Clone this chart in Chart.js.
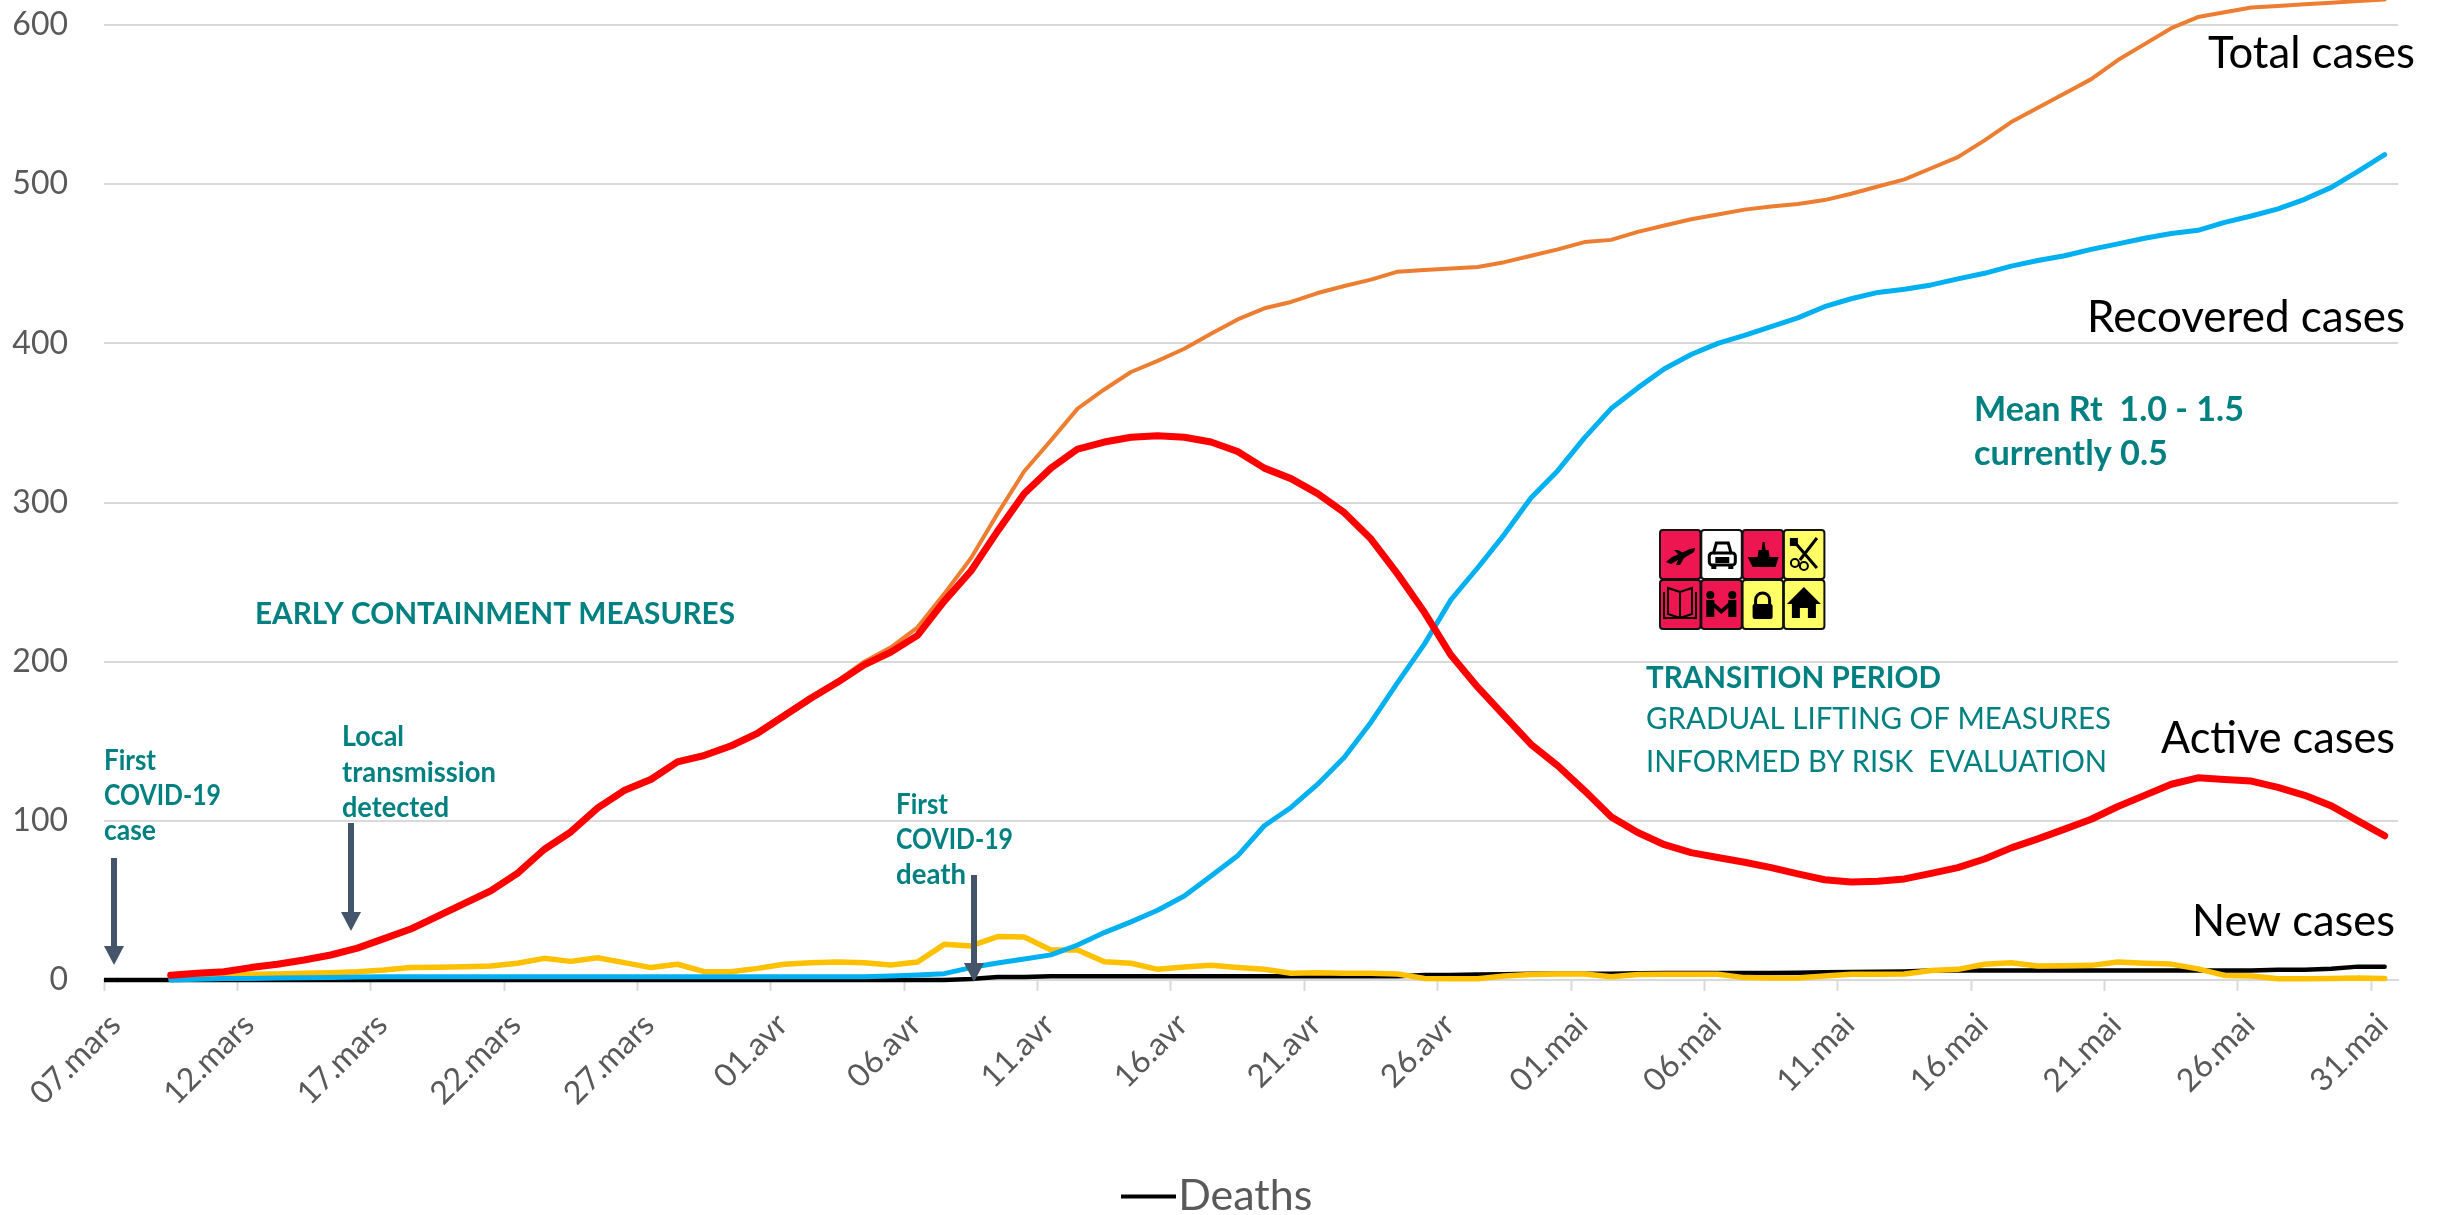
<!DOCTYPE html>
<html>
<head>
<meta charset="utf-8">
<title>COVID-19 cases</title>
<style>
  html, body { margin: 0; padding: 0; background: #fff; }
  canvas { display: block; }
</style>
<script src="https://cdn.jsdelivr.net/npm/chart.js@4"></script>
</head>
<body>
<canvas id="chart" width="2443" height="1215"></canvas>
<script>
/* Daily values, 07.mars to 31.mai (86 days) */
const days = [
  "07.mars","08.mars","09.mars","10.mars","11.mars","12.mars","13.mars","14.mars","15.mars","16.mars",
  "17.mars","18.mars","19.mars","20.mars","21.mars","22.mars","23.mars","24.mars","25.mars","26.mars",
  "27.mars","28.mars","29.mars","30.mars","31.mars","01.avr","02.avr","03.avr","04.avr","05.avr",
  "06.avr","07.avr","08.avr","09.avr","10.avr","11.avr","12.avr","13.avr","14.avr","15.avr",
  "16.avr","17.avr","18.avr","19.avr","20.avr","21.avr","22.avr","23.avr","24.avr","25.avr",
  "26.avr","27.avr","28.avr","29.avr","30.avr","01.mai","02.mai","03.mai","04.mai","05.mai",
  "06.mai","07.mai","08.mai","09.mai","10.mai","11.mai","12.mai","13.mai","14.mai","15.mai",
  "16.mai","17.mai","18.mai","19.mai","20.mai","21.mai","22.mai","23.mai","24.mai","25.mai",
  "26.mai","27.mai","28.mai","29.mai","30.mai","31.mai"
];
const active = [
  null,null,3,4.2,5.2,7.8,9.9,12.6,15.7,20,
  26,32,40,48,56,67,82,93,108,119,
  126,137,141,147,155,166,177,187,198,206,
  216.5,238,257,282,305.6,321.6,333.6,338,341,342,
  341,338,332,321.6,315,305.6,293.6,277,255,231,
  204,184,166,148,134.6,119,102.5,92.7,85,80,
  77,74,70.6,66.7,63,61.6,62,63.5,67,70.6,
  76,83,88.7,94.8,101,109,116,123,127,126,
  125,121,116,109.4,100,90.6
];
const total = [
  null,null,3,4.3,5.4,8,10,13,16,20,
  26,33,41,49,57,68,83,94,109,120,
  127,138,142,148,156,167,178,188,200,209,
  221.6,242.6,265,293,319.6,339,359,371,382,389,
  396.6,406,415,422,426,431.6,436,440,445,446,
  447,448,451,455,459,463.6,465,470,474,478,
  481,484,486,487.6,490,494,498.5,503,510,517,
  527.5,539,548,557,566,578,588,598,605,608,
  611,612,613,614,615,616
];
const recovered = [
  null,null,0,0.5,1,1,1.2,1.4,1.6,1.9,
  2,2,2,2,2,2,2,2,2,2,
  2,2,2,2,2,2,2,2,2,2.5,
  3.1,4,7.8,10.7,13.2,15.8,22,29.8,36.5,43.8,
  52.8,65.4,78,96.9,108.4,123,140,162,187,211,
  239,259,280,303,320,340.6,359,372,384,393,
  400,405,410.5,416,423,428,432,434,436.7,440.5,
  444,448.5,452,455,459,462.5,466,469,471,476,
  480,484.5,490.5,498,508,518.6
];
const newCases = [
  null,null,2,2.3,3,3.6,3.8,4.2,4.6,5.2,
  6.3,7.8,8,8.4,8.8,10.5,13.6,11.7,14,10.9,
  7.8,9.9,5.2,5.2,7.3,9.9,10.9,11.3,10.9,9.4,
  11.3,22.4,21.4,27.3,27,18.9,18.9,11.5,10.5,6.7,
  8.2,9.2,7.8,6.7,4.2,4.6,4.2,4.2,3.8,1,
  0.8,0.8,2.5,3.4,3.8,3.8,2.1,3.4,3.6,3.6,
  3.6,1.5,1.3,1.3,2.5,3.6,3.6,3.8,6,6.7,
  9.9,10.9,8.8,9,9.2,11.3,10.5,10,7,2.9,
  2.5,0.8,0.8,1,1.3,1
];
const deaths = [
  0,0,0,0,0,0,0,0,0,0,
  0,0,0,0,0,0,0,0,0,0,
  0,0,0,0,0,0,0,0,0,0,
  0,0,0.6,1.9,1.9,2.4,2.4,2.4,2.4,2.4,
  2.4,2.4,2.4,2.4,2.4,2.4,2.4,2.4,2.4,3.2,
  3.2,3.4,3.6,4,4,4,4,4.2,4.4,4.4,
  4.4,4.4,4.4,4.6,4.8,5,5.2,5.4,5.9,5.9,
  5.9,5.9,5.9,5.9,5.9,5.9,5.9,5.9,5.9,5.9,
  5.9,6.5,6.5,7,8.4,8.4
];

const FONT = "Lato";
const TEAL = "#008080";

// ── Text, arrows and the pictogram block on top of the lines ──────────────────
function label(ctx, text, x, y, size, color, bold, width) {
  ctx.font = `${bold ? "bold " : ""}${size}px ${FONT}`;
  ctx.fillStyle = color;
  ctx.fillText(text, x, y, width);
}

function arrow(ctx, x, top, headTop, tip) {
  ctx.fillStyle = "#44546A";
  ctx.fillRect(x - 3, top, 6, headTop - top);
  ctx.beginPath();
  ctx.moveTo(x - 10, headTop);
  ctx.lineTo(x + 10, headTop);
  ctx.lineTo(x, tip);
  ctx.closePath();
  ctx.fill();
}

function poly(ctx, pts) {
  ctx.beginPath();
  pts.forEach((p, i) => i ? ctx.lineTo(p[0], p[1]) : ctx.moveTo(p[0], p[1]));
  ctx.closePath();
  ctx.fill();
}

// each glyph is drawn in a 40x48 cell
const glyphs = {
  plane(c) {
    poly(c, [[6,32],[12,27],[30,19],[35,18],[34,22],[24,28],[20,35],[16,35],[18,30],[11,34]]);
    poly(c, [[14,20],[18,20],[25,24],[20,26]]);
  },
  car(c) {
    c.lineWidth = 3;
    c.beginPath();
    c.moveTo(12, 24); c.lineTo(15, 13); c.lineTo(27, 13); c.lineTo(30, 24);
    c.stroke();
    c.beginPath(); c.roundRect(8, 23, 26, 12, 3); c.stroke();
    c.fillRect(14, 27, 14, 6);
    c.fillRect(10, 34, 5, 5);
    c.fillRect(27, 34, 5, 5);
  },
  ship(c) {
    poly(c, [[5,27],[36,27],[33,37],[10,37]]);
    poly(c, [[15,27],[16,20],[19,20],[20,12],[22,12],[23,20],[26,20],[27,27]]);
  },
  tools(c) {
    c.lineWidth = 3;
    c.beginPath();
    c.moveTo(8, 9); c.lineTo(33, 38);
    c.moveTo(33, 8); c.lineTo(16, 30);
    c.stroke();
    c.lineWidth = 2;
    c.beginPath(); c.arc(11, 33, 4, 0, 7); c.stroke();
    c.beginPath(); c.arc(20, 36, 4, 0, 7); c.stroke();
    c.fillRect(6, 8, 8, 8);
  },
  book(c) {
    c.lineWidth = 2;
    c.beginPath();
    c.moveTo(20, 12); c.lineTo(8, 8); c.lineTo(8, 34); c.lineTo(20, 38);
    c.lineTo(32, 34); c.lineTo(32, 8); c.closePath();
    c.moveTo(20, 12); c.lineTo(20, 38);
    c.moveTo(4, 12); c.lineTo(4, 38); c.lineTo(36, 38); c.lineTo(36, 12);
    c.stroke();
  },
  people(c) {
    c.beginPath(); c.arc(9, 15, 4, 0, 7); c.fill();
    c.beginPath(); c.arc(31, 15, 4, 0, 7); c.fill();
    c.fillRect(5, 20, 8, 17);
    c.fillRect(27, 20, 8, 17);
    poly(c, [[12,22],[20,29],[28,22],[28,27],[20,34],[12,27]]);
  },
  lock(c) {
    c.lineWidth = 3;
    c.beginPath(); c.arc(20, 20, 7, Math.PI, 0); c.lineTo(27, 25); c.moveTo(13, 20); c.lineTo(13, 25); c.stroke();
    c.beginPath(); c.roundRect(10, 24, 20, 15, 2); c.fill();
  },
  house(c) {
    poly(c, [[20,7],[37,24],[32,24],[32,38],[24,38],[24,28],[16,28],[16,38],[8,38],[8,24],[3,24]]);
  }
};

function pictograms(ctx) {
  const RED = "#ED1651", YEL = "#FFFF66";
  const cells = [
    ["plane", RED], ["car", "#FFFFFF"], ["ship", RED], ["tools", YEL],
    ["book", RED], ["people", RED], ["lock", YEL], ["house", YEL]
  ];
  cells.forEach(([name, fill], i) => {
    const x = 1660 + (i % 4) * 41.3, y = 530 + (i < 4 ? 0 : 50);
    ctx.save();
    ctx.translate(x, y);
    ctx.fillStyle = fill;
    ctx.strokeStyle = "#111";
    ctx.lineWidth = 2;
    ctx.beginPath();
    ctx.roundRect(0, 0, 40.5, 49, 3);
    ctx.fill();
    ctx.stroke();
    ctx.fillStyle = "#000";
    ctx.strokeStyle = "#000";
    glyphs[name](ctx);
    ctx.restore();
  });
}

// legend key: a plain dash wider than its box, so the text sits right after it
function legendDash() {
  const c = document.createElement("canvas");
  c.width = 55;
  c.height = 5;
  const g = c.getContext("2d");
  g.fillStyle = "#000";
  g.fillRect(0, 0.5, 55, 4);
  return c;
}

const overlay = {
  id: "overlay",
  beforeDraw(chart) {
    // the legend sits lower and further right than the layout would put it
    chart.legend.left = 0;
    chart.legend.right = 2452;
    chart.legend.top = 1175;
    chart.legend.bottom = 1229;
  },
  afterDraw(chart) {
    const ctx = chart.ctx, x = chart.scales.x, y = chart.scales.y;
    ctx.save();
    ctx.textAlign = "left";
    ctx.textBaseline = "alphabetic";

    // the black line runs from the axis start in the original
    ctx.strokeStyle = "#000";
    ctx.lineWidth = 4.5;
    ctx.beginPath();
    ctx.moveTo(x.left, y.getPixelForValue(deaths[0]));
    ctx.lineTo(x.getPixelForValue(0), y.getPixelForValue(deaths[0]));
    ctx.stroke();

    label(ctx, "Total cases", 2208, 68, 44, "#000", false, 207);
    label(ctx, "Recovered cases", 2087, 332, 44, "#000", false, 318);
    label(ctx, "Active cases", 2161, 753, 44, "#000", false, 234);
    label(ctx, "New cases", 2192, 936, 44, "#000", false, 203);

    label(ctx, "Mean Rt  1.0 - 1.5", 1974, 421, 35, TEAL, true, 270);
    label(ctx, "currently 0.5", 1974, 465, 35, TEAL, true, 194);

    label(ctx, "TRANSITION PERIOD", 1646, 688, 31, TEAL, true, 295);
    label(ctx, "GRADUAL LIFTING OF MEASURES", 1646, 729, 31, TEAL, false, 465);
    label(ctx, "INFORMED BY RISK  EVALUATION", 1646, 772, 31, TEAL, false, 461);

    label(ctx, "EARLY CONTAINMENT MEASURES", 255, 624, 31, TEAL, true, 480);

    label(ctx, "First", 104, 770, 28, TEAL, true, 52);
    label(ctx, "COVID-19", 104, 805, 28, TEAL, true, 117);
    label(ctx, "case", 104, 840, 28, TEAL, true, 52);

    label(ctx, "Local", 342, 746, 28, TEAL, true, 62);
    label(ctx, "transmission", 342, 782, 28, TEAL, true, 154);
    label(ctx, "detected", 342, 817, 28, TEAL, true, 107);

    label(ctx, "First", 896, 814, 28, TEAL, true, 52);
    label(ctx, "COVID-19", 896, 849, 28, TEAL, true, 117);
    label(ctx, "death", 896, 884, 28, TEAL, true, 70);

    arrow(ctx, 114, 858, 946, 965);
    arrow(ctx, 351, 823, 912, 931);
    arrow(ctx, 974, 875, 963, 982);

    pictograms(ctx);
    ctx.restore();
  }
};

function line(name, data, color, width) {
  return {
    label: name, data,
    borderColor: color, backgroundColor: color,
    borderWidth: width,
    pointRadius: 0, tension: 0, clip: false,
    borderCapStyle: "round", borderJoinStyle: "round",
    spanGaps: false
  };
}

new Chart(document.getElementById("chart"), {
  type: "line",
  data: {
    labels: days,
    // first dataset ends up on top
    datasets: [
      line("Active cases", active, "#FF0000", 7),
      line("Total cases", total, "#ED7D31", 4),
      line("Recovered cases", recovered, "#00B0F0", 5),
      line("New cases", newCases, "#FFC000", 5.5),
      line("Deaths", deaths, "#000000", 4.5)
    ]
  },
  options: {
    responsive: false,
    animation: false,
    devicePixelRatio: 1,
    layout: { padding: { top: 25, left: 0, right: 45, bottom: 0 } },
    plugins: {
      title: { display: false },
      tooltip: { enabled: false },
      legend: {
        position: "bottom",
        labels: {
          filter: item => item.text === "Deaths",
          usePointStyle: true,
          pointStyle: legendDash(),
          pointStyleWidth: 17,
          color: "#595959",
          padding: 0,
          font: { family: FONT, size: 43 }
        }
      }
    },
    scales: {
      x: {
        offset: true,
        afterFit: s => { s.height = 182; },
        border: { color: "#D9D9D9", width: 2 },
        grid: {
          offset: true,
          drawOnChartArea: false,
          drawTicks: true,
          tickLength: 11,
          tickWidth: 2,
          tickColor: c => (c.index % 5 === 0 ? "#D9D9D9" : "rgba(0,0,0,0)")
        },
        ticks: {
          autoSkip: false,
          minRotation: 45,
          maxRotation: 45,
          padding: 15,
          labelOffset: -2,
          color: "#595959",
          font: { family: FONT, size: 32 },
          callback(v, i) { return i % 5 === 0 ? days[i] : ""; }
        }
      },
      y: {
        min: 0,
        max: 600,
        afterFit: s => { s.width = 104; },
        border: { display: false },
        grid: {
          color: "#D9D9D9",
          lineWidth: 2,
          drawTicks: true,
          tickLength: 36,
          tickColor: "rgba(0,0,0,0)"
        },
        ticks: {
          stepSize: 100,
          padding: 0,
          color: "#595959",
          font: { family: FONT, size: 32 }
        }
      }
    }
  },
  plugins: [overlay]
});
</script>
</body>
</html>
